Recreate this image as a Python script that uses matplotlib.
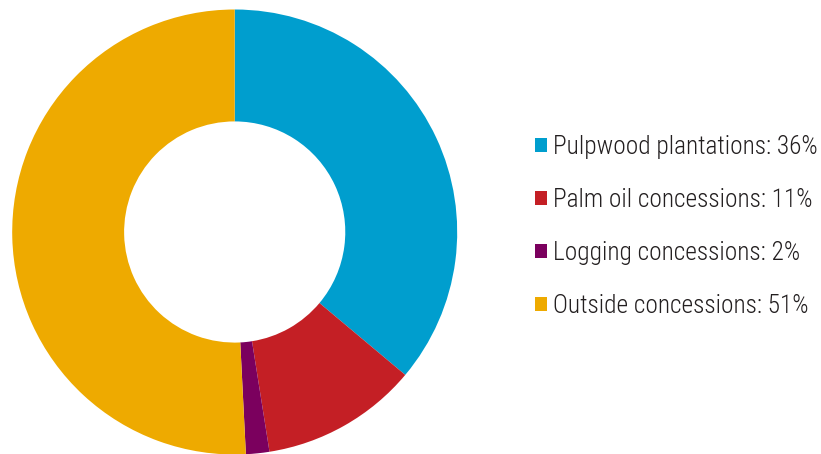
import matplotlib
matplotlib.use('Agg')
from matplotlib import pyplot as plt

# shares (labels are the rounded values)
categories = ['Pulpwood plantations', 'Palm oil concessions', 'Logging concessions', 'Outside concessions']
shares = [36.1, 11.4, 1.7, 50.8]
labels_pct = ['36%', '11%', '2%', '51%']
colors = ['#009ECE', '#C41F25', '#7B005E', '#EEAA00']

plt.rcParams['font.family'] = ['Roboto Condensed', 'DejaVu Sans']
plt.rcParams['font.weight'] = 'light'

fig = plt.figure(figsize=(8.21, 4.54), dpi=100)
ax = fig.add_axes([12.2 / 821, -0.5 / 454, 445 / 821, 445 / 454])

wedges, _ = ax.pie(shares, colors=colors, startangle=90, counterclock=False,
                   radius=1, wedgeprops=dict(width=0.503, linewidth=0))
ax.set_xlim(-1, 1)
ax.set_ylim(-1, 1)
ax.set_aspect('equal')
ax.axis('off')

leg_labels = [c + ': ' + p for c, p in zip(categories, labels_pct)]
fig.legend(wedges, leg_labels, loc='center left', bbox_to_anchor=(535 / 821, 1 - 226.5 / 454),
           frameon=False, fontsize=18.3, handlelength=0.47, handleheight=0.47,
           handletextpad=0.25, labelspacing=1.15, borderpad=0, borderaxespad=0,
           labelcolor='#231F20')

fig.savefig('out.png', dpi=100)
